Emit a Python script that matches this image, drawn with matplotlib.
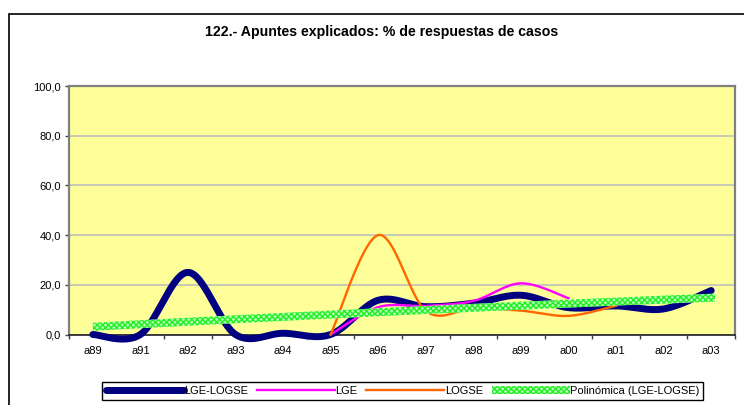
import numpy as np
import matplotlib
matplotlib.use('Agg')
import matplotlib.pyplot as plt
from matplotlib.lines import Line2D
from matplotlib.patches import Rectangle, Patch

plt.rcParams['font.family'] = ['Liberation Sans', 'DejaVu Sans']
plt.rcParams['hatch.linewidth'] = 1.0

title = '122.- Apuntes explicados: % de respuestas de casos'
years = ['a89', 'a91', 'a92', 'a93', 'a94', 'a95', 'a96', 'a97',
         'a98', 'a99', 'a00', 'a01', 'a02', 'a03']
lge_logse = [0, 0, 25, 0, 0.5, 0, 13.8, 11.2, 12.6, 15.8, 10.8, 11.5, 10.3, 17.7]
lge = [None, None, None, None, None, 0, 11, 11.5, 13.5, 20.6, 14.6, None, None, None]
logse = [None, None, None, None, None, 0, 40, 9.5, 10.5, 9.6, 7.5, 11.6, None, None]
y_ticks = [0, 20, 40, 60, 80, 100]


def smooth(xs, ys, steps=30):
    # excel style smoothed line (catmull-rom written as bezier segments)
    pts = np.column_stack([xs, ys]).astype(float)
    n = len(pts)
    out = [pts[0]]
    t = np.linspace(0, 1, steps)[1:, None]
    for i in range(n - 1):
        p0 = pts[i - 1] if i > 0 else pts[i]
        p1 = pts[i]
        p2 = pts[i + 1]
        p3 = pts[i + 2] if i + 2 < n else pts[i + 1]
        c1 = p1 + (p2 - p0) / 6.0
        c2 = p2 - (p3 - p1) / 6.0
        seg = (1 - t)**3 * p1 + 3 * (1 - t)**2 * t * c1 + 3 * (1 - t) * t**2 * c2 + t**3 * p2
        out.extend(seg)
    out = np.array(out)
    return out[:, 0], out[:, 1]


def present(series):
    xs = [i for i, v in enumerate(series) if v is not None]
    ys = [series[i] for i in xs]
    return xs, ys


fig = plt.figure(figsize=(7.44, 4.05), dpi=100)

# outer chart frame
fig.patches.append(Rectangle((9 / 744, -0.1), 1.2, 1 - 14 / 405 + 0.1,
                             transform=fig.transFigure, fill=False,
                             edgecolor='black', linewidth=1.2))

fig.text(382 / 744, 1 - 32 / 405, title, ha='center', va='center',
         fontsize=10.2, fontweight='bold')

ax = fig.add_axes([69 / 744, 1 - 334.5 / 405, (735 - 69) / 744, (334.5 - 86) / 405])
ax.set_facecolor('#ffff99')

navy_c = '#000080'
mag_c = '#ff00ff'
ora_c = '#ff6600'
green_face = '#b8ffb8'
green_hatch = '#22ee22'

x, y = smooth(*present(lge_logse))
ax.plot(x, y, color=navy_c, lw=5, solid_capstyle='round', clip_on=False, zorder=3)
x, y = smooth(*present(lge))
ax.plot(x, y, color=mag_c, lw=1.7, clip_on=False, zorder=4)
x, y = smooth(*present(logse))
ax.plot(x, y, color=ora_c, lw=1.7, clip_on=False, zorder=5)

# polynomial trend line (order 2) of LGE-LOGSE, drawn as a patterned band
idx = np.arange(len(years))
coef = np.polyfit(idx, lge_logse, 2)
xt = np.linspace(0, len(years) - 1 + 0.08, 200)
yt = np.polyval(coef, xt)
half = 1.6
ax.fill_between(xt, yt - half, yt + half, facecolor=green_face, edgecolor=green_hatch,
                hatch='xxxxxx', lw=0, clip_on=False, zorder=6)

ax.set_xlim(-0.5, len(years) - 0.5)
ax.set_ylim(0, 100)
ax.set_yticks(y_ticks)
ax.set_yticklabels([('%.1f' % v).replace('.', ',') for v in y_ticks], fontsize=8)
ax.yaxis.grid(True, color='#c0c0c0', lw=1.2)
ax.set_axisbelow(True)
ax.tick_params(axis='y', length=3, width=1, color='#404040', pad=3)

ax.set_xticks(idx)
ax.set_xticklabels(years, fontsize=8)
ax.set_xticks(np.arange(-0.5, len(years)), minor=True)
ax.tick_params(axis='x', which='major', length=0, pad=8)
ax.tick_params(axis='x', which='minor', length=3, width=1, color='#404040')

for s in ['left', 'top', 'right']:
    ax.spines[s].set_color('#808080')
    ax.spines[s].set_linewidth(1.6)
ax.spines['bottom'].set_color('#202020')
ax.spines['bottom'].set_linewidth(1.2)

handles = [
    Line2D([], [], color=navy_c, lw=5, solid_capstyle='round'),
    Line2D([], [], color=mag_c, lw=1.7),
    Line2D([], [], color=ora_c, lw=1.7),
    Patch(facecolor=green_face, edgecolor=green_hatch, hatch='xxxxxx', lw=0),
]
names = ['LGE-LOGSE', 'LGE', 'LOGSE', 'Polinómica (LGE-LOGSE)']
leg = fig.legend(handles, names, loc='upper left', bbox_to_anchor=(102 / 744, 1 - 382 / 405),
                 ncol=4, fontsize=8, handlelength=7.0, handletextpad=0.05,
                 columnspacing=0.8, borderpad=0.35, borderaxespad=0,
                 fancybox=False, framealpha=1, edgecolor='black')
leg.get_frame().set_linewidth(1.0)

fig.savefig('out.png', dpi=100)
